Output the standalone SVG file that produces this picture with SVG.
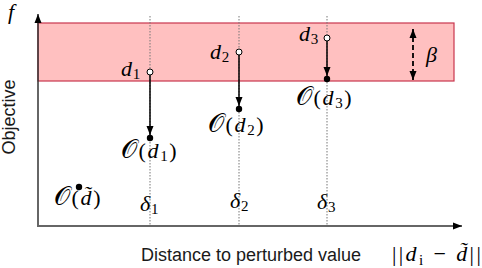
<svg xmlns="http://www.w3.org/2000/svg" width="482" height="268" viewBox="0 0 482 268">
<style>
.m{font-family:"Liberation Serif","DejaVu Serif",serif;font-style:italic;font-size:22px;fill:#000;letter-spacing:0.8px}
.o{letter-spacing:1.6px}
.cal{font-size:26px;font-style:normal}
.up{font-style:normal}
.sub{font-size:15px;font-style:normal}
.lab{font-family:"Liberation Sans",Arial,sans-serif;font-size:18px;fill:#1a1a1a}
.dot{stroke:#777;stroke-width:1;stroke-dasharray:1.5 1.5;fill:none}
.arr{stroke:#000;stroke-width:1.5;fill:none;marker-end:url(#ah)}
.open{fill:#fff;stroke:#000;stroke-width:1}
.full{fill:#000}
</style>
<defs>
<marker id="ah" markerUnits="userSpaceOnUse" markerWidth="10" markerHeight="10" viewBox="0 0 10 10" refX="9" refY="5" orient="auto">
<path d="M0,1.5 L9,5 L0,8.5 z" fill="#000"/>
</marker>
<marker id="ahs" markerUnits="userSpaceOnUse" markerWidth="10" markerHeight="10" viewBox="0 0 10 10" refX="9" refY="5" orient="auto-start-reverse">
<path d="M0,1.5 L9,5 L0,8.5 z" fill="#000"/>
</marker>
</defs>

<g id="band">
<rect x="38" y="23" width="416" height="58" fill="#ffc0c0" stroke="#c8364e" stroke-width="1.2"/>
</g>

<g id="guides">
<line class="dot" x1="150" y1="16" x2="150" y2="226"/>
<line class="dot" x1="239" y1="16" x2="239" y2="226"/>
<line class="dot" x1="327" y1="16" x2="327" y2="226"/>
</g>

<g id="axes">
<line x1="38" y1="227" x2="38" y2="14" stroke="#333" stroke-width="1.5" marker-end="url(#ah)"/>
<line x1="37" y1="226" x2="462" y2="226" stroke="#666" stroke-width="2.2" marker-end="url(#ah)"/>
<text x="8" y="19" class="m" font-size="20">f</text>
<text class="lab" transform="translate(15,117) rotate(-90)" text-anchor="middle" font-size="17">Objective</text>
<text x="141" y="261" class="lab">Distance to perturbed value</text>
<text x="392" y="261" class="m" style="letter-spacing:2.4px"><tspan class="up">||</tspan>d<tspan class="sub" dy="4">i</tspan><tspan class="up" dy="-4"> − </tspan>d̃<tspan class="up">||</tspan></text>
</g>

<g id="connectors">
<line class="arr" x1="150" y1="75" x2="150" y2="135"/>
<line class="arr" x1="239" y1="55" x2="239" y2="106"/>
<line class="arr" x1="327" y1="41" x2="327" y2="76"/>
<line x1="413" y1="29" x2="413" y2="80" stroke="#000" stroke-width="1.8" stroke-dasharray="5 3" marker-start="url(#ahs)" marker-end="url(#ahs)"/>
</g>

<g id="n-d1">
<circle class="open" cx="150" cy="72" r="3"/>
<text x="121" y="76" class="m">d<tspan class="sub" dy="3">1</tspan></text>
</g>
<g id="n-d2">
<circle class="open" cx="239" cy="52" r="3"/>
<text x="210" y="59" class="m">d<tspan class="sub" dy="3">2</tspan></text>
</g>
<g id="n-d3">
<circle class="open" cx="327" cy="38" r="3"/>
<text x="299" y="41" class="m">d<tspan class="sub" dy="3">3</tspan></text>
</g>

<g id="n-Od1">
<circle class="full" cx="150" cy="138" r="3.2"/>
<text x="121" y="158" class="m o"><tspan class="cal">𝒪</tspan><tspan class="up">(</tspan>d<tspan class="sub" dy="3">1</tspan><tspan class="up" dy="-3">)</tspan></text>
</g>
<g id="n-Od2">
<circle class="full" cx="239" cy="109" r="3.2"/>
<text x="208" y="132" class="m o"><tspan class="cal">𝒪</tspan><tspan class="up">(</tspan>d<tspan class="sub" dy="3">2</tspan><tspan class="up" dy="-3">)</tspan></text>
</g>
<g id="n-Od3">
<circle class="full" cx="327" cy="79" r="3.2"/>
<text x="296" y="105" class="m o"><tspan class="cal">𝒪</tspan><tspan class="up">(</tspan>d<tspan class="sub" dy="3">3</tspan><tspan class="up" dy="-3">)</tspan></text>
</g>
<g id="n-Odtilde">
<circle class="full" cx="79" cy="187" r="3.2"/>
<text x="54" y="205" class="m o"><tspan class="cal">𝒪</tspan><tspan class="up">(</tspan>d̃<tspan class="up">)</tspan></text>
</g>

<g id="beta">
<text x="426" y="62" class="m">β</text>
</g>

<g id="deltas">
<text x="140" y="211" class="m">δ<tspan class="sub" dy="3">1</tspan></text>
<text x="230" y="208" class="m">δ<tspan class="sub" dy="3">2</tspan></text>
<text x="317" y="209" class="m">δ<tspan class="sub" dy="3">3</tspan></text>
</g>
</svg>
